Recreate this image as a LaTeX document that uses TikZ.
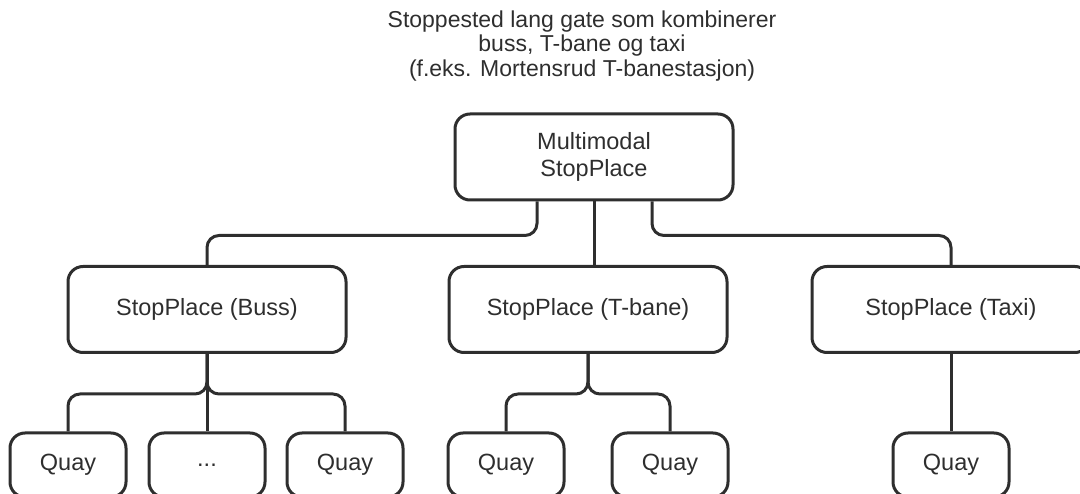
\documentclass[tikz,border=0pt]{standalone}
\usepackage{fontspec}
\setmainfont{Liberation Sans}
\usetikzlibrary{positioning}
\definecolor{ink}{HTML}{2E2E2E}
\begin{document}
\begin{tikzpicture}[x=1pt,y=-1pt,
  box/.style={draw=ink,line width=3pt,rounded corners=15pt,minimum width=278pt,minimum height=86pt,
    inner sep=0pt,align=center,text=ink,font=\fontsize{23.5}{27}\selectfont},
  quaybox/.style={draw=ink,line width=3pt,rounded corners=15pt,minimum width=116pt,minimum height=64pt,
    inner sep=0pt,align=center,text=ink,font=\fontsize{23.5}{27}\selectfont},
  link/.style={draw=ink,line width=3pt,rounded corners=12pt}]
\useasboundingbox (0,0) rectangle (1080,494);
\clip (0,0) rectangle (1080,494);
\node[text=ink,align=center,font=\fontsize{23}{24.5}\selectfont] (title) at (582,46)
  {Stoppested lang gate som kombinerer\\buss, T-bane og taxi\\(f.eks. Mortensrud T-banestasjon)};
\node[box] (M) at (594,157) {Multimodal\\StopPlace};
\node[box] (B) at (207,309.5) {StopPlace (Buss)};
\node[box] (T) at (588,309.5) {StopPlace (T-bane)};
\node[box] (X) at (951,309.5) {StopPlace (Taxi)};
\node[quaybox] (q1) at (68,465) {Quay};
\node[quaybox] (q2) at (207,465) {...};
\node[quaybox] (q3) at (345,465) {Quay};
\node[quaybox] (q4) at (506,465) {Quay};
\node[quaybox] (q5) at (670,465) {Quay};
\node[quaybox] (q6) at (951,465) {Quay};
% top level
\draw[link] ([xshift=-57pt]M.south) -- ++(0,34) -| (B.north);
\draw[link] (M.south) -- (M.south |- T.north);
\draw[link] ([xshift=58pt]M.south) -- ++(0,34) -| (X.north);
% buss
\draw[link] (B.south) -- ++(0,40) -| (q1.north);
\draw[link] (B.south) -- (q2.north);
\draw[link] (B.south) -- ++(0,40) -| (q3.north);
% t-bane
\draw[link] (T.south) -- ++(0,40) -| (q4.north);
\draw[link] (T.south) -- ++(0,40) -| (q5.north);
% taxi
\draw[link] (X.south) -- (q6.north);
\end{tikzpicture}
\end{document}
